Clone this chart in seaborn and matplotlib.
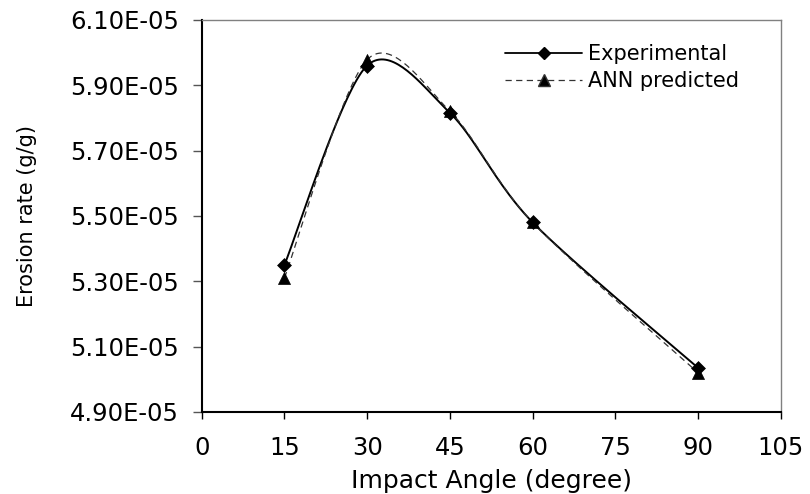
import numpy as np
import pandas as pd
import matplotlib
matplotlib.use("Agg")
import matplotlib.pyplot as plt
from matplotlib.lines import Line2D
from matplotlib.ticker import FuncFormatter
import seaborn as sns

angles = [15, 30, 45, 60, 90]
experimental = [5.35e-05, 5.96e-05, 5.815e-05, 5.48e-05, 5.035e-05]
ann_predicted = [5.31e-05, 5.978e-05, 5.82e-05, 5.48e-05, 5.02e-05]
x_ticks = [0, 15, 30, 45, 60, 75, 90, 105]
y_ticks = [4.90e-05, 5.10e-05, 5.30e-05, 5.50e-05, 5.70e-05, 5.90e-05, 6.10e-05]

sns.set_style("white")
plt.rcParams['font.family'] = ['DejaVu Sans']
plt.rcParams['text.color'] = 'black'
plt.rcParams['axes.labelcolor'] = 'black'
plt.rcParams['xtick.color'] = 'black'
plt.rcParams['ytick.color'] = 'black'

XR = (0, 105)
YR = (4.90e-05, 6.10e-05)


def smooth(xs, ys, n=40, f=0.15):
    # Excel-like smoothed line: parametric Bezier through the points
    x = (np.asarray(xs, float) - XR[0]) / (XR[1] - XR[0]) * 1.45
    y = (np.asarray(ys, float) - YR[0]) / (YR[1] - YR[0])
    P = np.column_stack([x, y])
    out = []
    m = len(P)
    for i in range(m - 1):
        p0 = P[i - 1] if i > 0 else P[i]
        p1 = P[i]
        p2 = P[i + 1]
        p3 = P[i + 2] if i + 2 < m else P[i + 1]
        c1 = p1 + (p2 - p0) * f
        c2 = p2 - (p3 - p1) * f
        t = np.linspace(0, 1, n)[:, None]
        seg = ((1 - t) ** 3) * p1 + 3 * ((1 - t) ** 2) * t * c1 + 3 * (1 - t) * t ** 2 * c2 + t ** 3 * p2
        if i > 0:
            seg = seg[1:]
        out.append(seg)
    S = np.vstack(out)
    sx = S[:, 0] / 1.45 * (XR[1] - XR[0]) + XR[0]
    sy = S[:, 1] * (YR[1] - YR[0]) + YR[0]
    return sx, sy


fig = plt.figure(figsize=(8.1, 4.94), dpi=100)
ax = fig.add_axes([0.249, 0.166, 0.715, 0.794])

ex, ey = smooth(angles, experimental)
ax_, ay_ = smooth(angles, ann_predicted)
df_exp = pd.DataFrame({"x": ex, "y": ey})
df_ann = pd.DataFrame({"x": ax_, "y": ay_})

sns.lineplot(data=df_exp, x="x", y="y", ax=ax, color="black", linewidth=1.4,
             sort=False, estimator=None, legend=False)
sns.lineplot(data=df_ann, x="x", y="y", ax=ax, color="#333333", linewidth=0.9,
             sort=False, estimator=None, legend=False, dashes=False)
ax.lines[-1].set_linestyle((0, (5, 3.5)))

pts_exp = pd.DataFrame({"x": angles, "y": experimental})
pts_ann = pd.DataFrame({"x": angles, "y": ann_predicted})
sns.scatterplot(data=pts_exp, x="x", y="y", ax=ax, marker="D", s=50, color="black",
                edgecolor="black", linewidth=0.5, zorder=3, legend=False)
sns.scatterplot(data=pts_ann, x="x", y="y", ax=ax, marker="^", s=75, color="black",
                edgecolor="black", linewidth=0.5, zorder=4, legend=False)

ax.set_xlim(*XR)
ax.set_ylim(*YR)
ax.set_xticks(x_ticks)
ax.set_yticks(y_ticks)
ax.yaxis.set_major_formatter(FuncFormatter(lambda v, p: "%.2E" % v))
ax.tick_params(axis="x", which="major", bottom=True, direction="out", length=5, width=1,
               color="black", labelcolor="black", labelsize=17.5, pad=12)
ax.tick_params(axis="y", which="major", left=True, direction="out", length=6.5, width=1,
               color="#555555", labelcolor="black", labelsize=17.5, pad=10)

for s in ["left", "bottom"]:
    ax.spines[s].set_color("black")
    ax.spines[s].set_linewidth(1.5)
for s in ["top", "right"]:
    ax.spines[s].set_color("#808080")
    ax.spines[s].set_linewidth(1.0)

ax.set_xlabel("Impact Angle (degree)", fontsize=18, labelpad=7, color="black")
ax.set_ylabel("Erosion rate (g/g)", fontsize=15, labelpad=24, color="black")

handles = [
    Line2D([0], [0], color="black", linewidth=1.3, marker="D", markersize=6,
           markerfacecolor="black"),
    Line2D([0], [0], color="#333333", linewidth=0.9, linestyle=(0, (5, 3.5)),
           marker="^", markersize=8, markerfacecolor="black"),
]
fs_leg = 15
leg = ax.legend(handles, ["Experimental", "ANN predicted"], loc="center left",
                bbox_to_anchor=(505 / 810, 1 - 67.5 / 494), bbox_transform=fig.transFigure,
                frameon=False, fontsize=fs_leg, borderpad=0, borderaxespad=0,
                handlelength=3.7, handletextpad=0.3, labelspacing=0.35)
for t in leg.get_texts():
    t.set_color("black")

fig.savefig("out.png", dpi=100)
